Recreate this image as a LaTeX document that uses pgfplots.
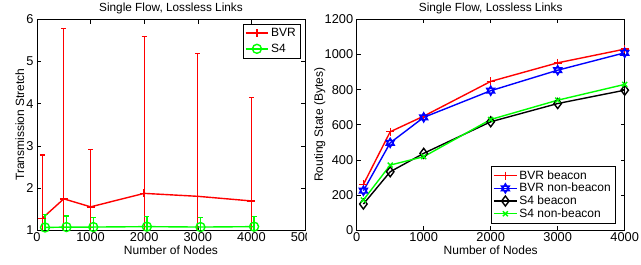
\documentclass[border=0pt]{standalone}
\usepackage{pgfplots}
\pgfplotsset{compat=1.18}
\usepackage{fontspec}
\setmainfont{Liberation Sans}
\definecolor{mred}{RGB}{255,0,0}
\definecolor{mgreen}{RGB}{0,255,0}
\definecolor{mblue}{RGB}{0,0,255}
\pgfdeclareplotmark{hexagram}{%
  \pgfpathmoveto{\pgfpointpolar{90}{1.15\pgfplotmarksize}}%
  \pgfpathlineto{\pgfpointpolar{210}{1.15\pgfplotmarksize}}%
  \pgfpathlineto{\pgfpointpolar{330}{1.15\pgfplotmarksize}}%
  \pgfpathclose
  \pgfpathmoveto{\pgfpointpolar{270}{1.15\pgfplotmarksize}}%
  \pgfpathlineto{\pgfpointpolar{30}{1.15\pgfplotmarksize}}%
  \pgfpathlineto{\pgfpointpolar{150}{1.15\pgfplotmarksize}}%
  \pgfpathclose
  \pgfusepathqstroke}
\pgfplotsset{
  every axis title/.style={at={(0.5,1)}, anchor=base, yshift=8pt, inner sep=0pt, font=\fontsize{11.8}{13}\selectfont},
  mstyle/.style={
    scale only axis, width=268pt, height=210.5pt,
    font=\fontsize{12}{13}\selectfont,
    axis line style={line width=0.7pt},
    tick style={black, line width=0.5pt},
    tick align=inside, major tick length=4pt,
    /pgf/number format/assume math mode=true,
    /pgf/number format/1000 sep={},
    xlabel style={at={(0.5,0)}, anchor=base, yshift=-25pt, inner sep=0pt},
    xticklabel style={anchor=base, yshift=-12pt, font=\fontsize{12.8}{14}\selectfont},
    yticklabel style={font=\fontsize{12.8}{14}\selectfont},
    legend cell align=left,
    legend image code/.code={\draw[mark repeat=2,mark phase=2] plot coordinates {(0cm,0cm)(0.4cm,0cm)(0.8cm,0cm)};},
    legend style={draw=black, fill=white, font=\fontsize{12}{13}\selectfont, inner sep=2pt},
  }
}
\begin{document}
\begin{tikzpicture}
\path[use as bounding box] (-37pt,-35pt) rectangle (604pt,230pt);
\begin{scope}
\clip (-37pt,-35pt) rectangle (269pt,230pt);
\begin{axis}[mstyle, at={(0pt,0pt)}, anchor=south west,
  xmin=0, xmax=5000, ymin=1, ymax=6,
  xtick={0,1000,2000,3000,4000,5000}, ytick={1,2,3,4,5,6},
  title={Single Flow, Lossless Links},
  xlabel={Number of Nodes}, ylabel={Transmission Stretch},
  ylabel style={at={(axis description cs:-0.048,0.5)}, anchor=base, inner sep=0pt},
  legend style={at={(0.981,0.979)}, anchor=north east, row sep=2pt},
]
\addplot[mred, line width=1.4pt, mark=+, mark size=4pt,
  error bars/.cd, y dir=both, y explicit, error mark=-,
  error bar style={line width=1.3pt, mred},
  error mark options={rotate=90, mark size=2.5pt, line width=1.3pt, mred}]
coordinates {
(100,1.28) +=(0,1.50) -=(0,0.5)
(500,1.74) +=(0,4.05) -=(0,0.9)
(1000,1.55) +=(0,1.37) -=(0,0.7)
(2000,1.87) +=(0,3.72) -=(0,1.0)
(3000,1.80) +=(0,3.39) -=(0,0.9)
(4000,1.69) +=(0,2.46) -=(0,0.8)
};
\addlegendentry{BVR}
\addplot[mgreen, line width=1.4pt, mark=o, mark size=4.5pt,
  error bars/.cd, y dir=both, y explicit, error mark=-,
  error bar style={line width=1.3pt, mgreen},
  error mark options={rotate=90, mark size=2.5pt, line width=1.3pt, mgreen}]
coordinates {
(150,1.06) +=(0,0.30) -=(0,0.30)
(550,1.07) +=(0,0.26) -=(0,0.26)
(1050,1.07) +=(0,0.22) -=(0,0.22)
(2050,1.08) +=(0,0.24) -=(0,0.24)
(3050,1.07) +=(0,0.22) -=(0,0.22)
(4050,1.08) +=(0,0.24) -=(0,0.24)
};
\addlegendentry{S4}
\end{axis}
\end{scope}
\begin{axis}[mstyle, at={(319.7pt,0pt)}, anchor=south west,
  xmin=0, xmax=4000, ymin=0, ymax=1200,
  xtick={0,1000,2000,3000,4000}, ytick={0,200,400,600,800,1000,1200},
  title={Single Flow, Lossless Links},
  xlabel={Number of Nodes}, ylabel={Routing State (Bytes)},
  ylabel style={at={(axis description cs:-0.1264,0.5)}, anchor=base, inner sep=0pt},
  legend style={at={(0.964,0.033)}, anchor=south east, row sep=-1.5pt},
]
\addplot[mred, line width=1.4pt, mark=+, mark size=4pt]
coordinates {(100,260)(500,560)(1000,649)(2000,847)(3000,953)(4000,1031)};
\addlegendentry{BVR beacon}
\addplot[mblue, line width=1.4pt, mark=hexagram, mark size=4pt]
coordinates {(100,224)(500,497)(1000,642)(2000,794)(3000,911)(4000,1010)};
\addlegendentry{BVR non{-}beacon}
\addplot[black, line width=1.4pt, mark=diamond, mark size=5pt]
coordinates {(100,148)(500,332)(1000,437)(2000,617)(3000,721)(4000,797)};
\addlegendentry{S4 beacon}
\addplot[mgreen, line width=1.4pt, mark=x, mark size=3.5pt]
coordinates {(100,171)(500,370)(1000,418)(2000,630)(3000,740)(4000,830)};
\addlegendentry{S4 non{-}beacon}
\end{axis}
\end{tikzpicture}
\end{document}
